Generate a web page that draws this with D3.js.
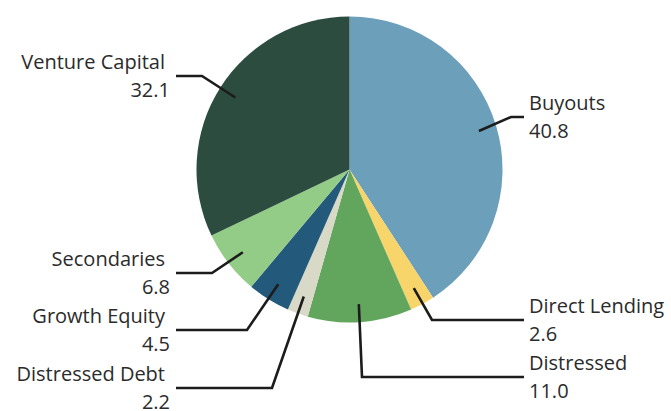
<!DOCTYPE html>
<html>
<head>
<meta charset="utf-8">
<script src="https://cdn.jsdelivr.net/npm/d3@7/dist/d3.min.js"></script>
<style>
  html, body { margin: 0; padding: 0; background: #fff; }
  svg { display: block; }
  text { font-family: "Open Sans", sans-serif; font-size: 20px; fill: #2b2b2b; }
</style>
</head>
<body>
<script>
// ---- data ----
const categories = ["Buyouts", "Direct Lending", "Distressed", "Distressed Debt", "Growth Equity", "Secondaries", "Venture Capital"];
const values = [40.8, 2.6, 11.0, 2.2, 4.5, 6.8, 32.1];
const valueLabels = ["40.8", "2.6", "11.0", "2.2", "4.5", "6.8", "32.1"];
const colors = ["#6b9fba", "#f7d56b", "#62a65e", "#d9d9c8", "#235a7c", "#93cc86", "#2b4c3f"];

// ---- layout ----
const W = 671, H = 411;
const cx = 349.5, cy = 169.5, R = 153;
// leader layout per slice: side, line y, elbow x, end x
const leader = [
  { side: "right", y: 117, ex: 511, endX: 524 },
  { side: "right", y: 320, ex: 432, endX: 524 },
  { side: "right", y: 377, ex: 362, endX: 524 },
  { side: "left",  y: 388, ex: 272, endX: 176 },
  { side: "left",  y: 330, ex: 247, endX: 176 },
  { side: "left",  y: 273, ex: 212, endX: 176 },
  { side: "left",  y: 76,  ex: 202, endX: 176 }
];
const nameDy = -7, valDy = 21;

const svg = d3.select("body").append("svg").attr("width", W).attr("height", H);
const g = svg.append("g").attr("transform", `translate(${cx},${cy})`);

const pie = d3.pie().sort(null).value((d, i) => values[i]);
const arcs = pie(categories);
const arc = d3.arc().innerRadius(0).outerRadius(R);
const labelArc = d3.arc().innerRadius(135).outerRadius(135);

g.selectAll("path.slice").data(arcs).join("path")
  .attr("class", "slice")
  .attr("d", arc)
  .attr("fill", (d, i) => colors[i]);

const line = d3.line();
svg.selectAll("path.leader").data(arcs).join("path")
  .attr("class", "leader")
  .attr("fill", "none")
  .attr("stroke", "#1c1c1c")
  .attr("stroke-width", 2.6)
  .attr("d", (d, i) => {
    const c = labelArc.centroid(d);
    const L = leader[i];
    return line([[cx + c[0], cy + c[1]], [L.ex, L.y], [L.endX, L.y]]);
  });

const labels = svg.selectAll("g.lab").data(arcs).join("g").attr("class", "lab");
labels.append("text")
  .attr("x", (d, i) => leader[i].side === "right" ? 529 : 165)
  .attr("y", (d, i) => leader[i].y + nameDy)
  .attr("text-anchor", (d, i) => leader[i].side === "right" ? "start" : "end")
  .text((d, i) => categories[i]);
labels.append("text")
  .attr("x", (d, i) => leader[i].side === "right" ? 529 : 170)
  .attr("y", (d, i) => leader[i].y + valDy)
  .attr("text-anchor", (d, i) => leader[i].side === "right" ? "start" : "end")
  .text((d, i) => valueLabels[i]);
</script>
</body>
</html>
